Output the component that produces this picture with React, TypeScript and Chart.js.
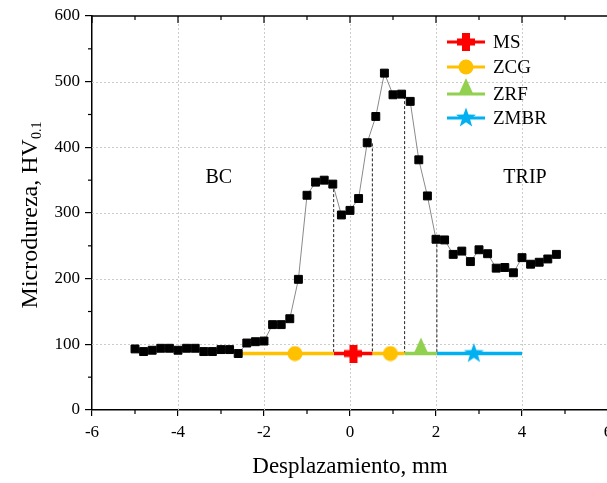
import React, { useEffect, useRef } from 'react';
import { Chart, registerables } from 'chart.js';

Chart.register(...registerables);

// ---- data ----
const positions = [
  -5.0, -4.8, -4.6, -4.4, -4.2, -4.0, -3.8, -3.6, -3.4, -3.2,
  -3.0, -2.8, -2.6, -2.4, -2.2, -2.0, -1.8, -1.6, -1.4, -1.2,
  -1.0, -0.8, -0.6, -0.4, -0.2, 0.0, 0.2, 0.4, 0.6, 0.8,
  1.0, 1.2, 1.4, 1.6, 1.8, 2.0, 2.2, 2.4, 2.6, 2.8,
  3.0, 3.2, 3.4, 3.6, 3.8, 4.0, 4.2, 4.4, 4.6, 4.8,
];
const hardness = [
  93, 89, 91, 94, 94, 91, 94, 94, 89, 89,
  92, 92, 86, 102, 104, 105, 130, 130, 139, 199,
  327, 347, 350, 344, 297, 304, 322, 407, 447, 513,
  480, 481, 470, 381, 326, 260, 259, 237, 242, 226,
  244, 238, 216, 217, 209, 232, 222, 225, 230, 237,
];

const zoneNames = ['ZCG', 'MS', 'ZCG', 'ZRF', 'ZMBR'];
const zoneStart = [-2.58, -0.38, 0.52, 1.27, 2.02];
const zoneEnd = [-0.38, 0.52, 1.27, 2.02, 4.0];
const zoneMarkerX = [-1.28, 0.08, 0.94, 1.65, 2.88];
const zoneLevel = 86;

const boundaryX = [-0.38, 0.52, 1.27, 2.02];
const boundaryTop = [344, 406, 478, 260];

const legendNames = ['MS', 'ZCG', 'ZRF', 'ZMBR'];

const xTicks = [-6, -4, -2, 0, 2, 4, 6];
const xMinorTicks = [-5, -3, -1, 1, 3, 5];
const yTicks = [0, 100, 200, 300, 400, 500, 600];
const yMinorTicks = [50, 150, 250, 350, 450, 550];

const regionLabels = ['BC', 'TRIP'];
const regionLabelX = [-3.05, 4.07];
const regionLabelY = [353, 353];

// ---- styles ----
const FONT = '"Liberation Serif", "Times New Roman", Times, serif';
const zoneColors: Record<string, string> = {
  MS: '#FF0000',
  ZCG: '#FFC000',
  ZRF: '#92D050',
  ZMBR: '#00B0F0',
};

function makeMarker(name: string): HTMLCanvasElement {
  const c = document.createElement('canvas');
  const color = zoneColors[name];
  if (name === 'MS') {
    c.width = 18; c.height = 18;
    const g = c.getContext('2d')!;
    g.fillStyle = color;
    g.fillRect(5, 0, 8, 18);
    g.fillRect(0, 5.5, 18, 7);
  } else if (name === 'ZCG') {
    c.width = 16; c.height = 16;
    const g = c.getContext('2d')!;
    g.fillStyle = color;
    g.beginPath();
    g.arc(8, 8, 7.5, 0, Math.PI * 2);
    g.fill();
  } else if (name === 'ZRF') {
    c.width = 18; c.height = 34;
    const g = c.getContext('2d')!;
    g.fillStyle = color;
    g.beginPath();
    g.moveTo(9, 1);
    g.lineTo(16.5, 17.5);
    g.lineTo(1.5, 17.5);
    g.closePath();
    g.fill();
  } else {
    c.width = 22; c.height = 22;
    const g = c.getContext('2d')!;
    g.fillStyle = color;
    g.beginPath();
    const R = 10.5, r = 4.3;
    for (let i = 0; i < 10; i++) {
      const rad = (Math.PI / 5) * i - Math.PI / 2;
      const rr = i % 2 === 0 ? R : r;
      const px = 11 + Math.cos(rad) * rr;
      const py = 11 + Math.sin(rad) * rr;
      if (i === 0) g.moveTo(px, py); else g.lineTo(px, py);
    }
    g.closePath();
    g.fill();
  }
  return c;
}

export default function App() {
  const ref = useRef<HTMLCanvasElement | null>(null);

  useEffect(() => {
    const canvas = ref.current!;
    const markers: Record<string, HTMLCanvasElement> = {};
    legendNames.forEach((n) => { markers[n] = makeMarker(n); });

    const datasets: any[] = [];

    // measured profile
    datasets.push({
      type: 'line',
      label: 'Microdureza',
      data: positions.map((x, i) => ({ x, y: hardness[i] })),
      borderColor: '#8a8a8a',
      borderWidth: 1,
      pointStyle: 'rect',
      pointRadius: 5.6,
      pointBackgroundColor: '#000',
      pointBorderColor: '#000',
      pointBorderWidth: 1,
      tension: 0,
      order: 2,
    });

    // zone segments
    zoneNames.forEach((n, i) => {
      datasets.push({
        type: 'line',
        label: n + '-line',
        data: [
          { x: zoneStart[i], y: zoneLevel },
          { x: zoneEnd[i], y: zoneLevel },
        ],
        borderColor: zoneColors[n],
        borderWidth: 3.5,
        pointRadius: 0,
        order: 4,
      });
      datasets.push({
        type: 'line',
        label: n,
        data: [{ x: zoneMarkerX[i], y: zoneLevel }],
        showLine: false,
        pointStyle: markers[n],
        pointRadius: 8,
        order: 1,
      });
    });

    // dashed boundaries
    boundaryX.forEach((bx, i) => {
      datasets.push({
        type: 'line',
        label: 'b' + i,
        data: [
          { x: bx, y: boundaryTop[i] },
          { x: bx, y: zoneLevel },
        ],
        borderColor: '#222',
        borderWidth: 1,
        borderDash: [3, 2],
        pointRadius: 0,
        order: 5,
      });
    });

    const decor = {
      id: 'decor',
      beforeDatasetsDraw(chart: any) {
        const { ctx, chartArea: a, scales } = chart;
        const xs = scales.x, ys = scales.y;
        ctx.save();
        ctx.strokeStyle = '#cccccc';
        ctx.lineWidth = 1;
        ctx.setLineDash([2, 2]);
        xTicks.forEach((v) => {
          if (v <= -6 || v >= 6) return;
          const px = Math.round(xs.getPixelForValue(v)) + 0.5;
          ctx.beginPath(); ctx.moveTo(px, a.top); ctx.lineTo(px, a.bottom); ctx.stroke();
        });
        yTicks.forEach((v) => {
          if (v <= 0 || v >= 600) return;
          const py = Math.round(ys.getPixelForValue(v)) + 0.5;
          ctx.beginPath(); ctx.moveTo(a.left, py); ctx.lineTo(a.right, py); ctx.stroke();
        });
        ctx.restore();
      },
      afterDraw(chart: any) {
        const { ctx, chartArea: a, scales } = chart;
        const xs = scales.x, ys = scales.y;
        ctx.save();
        ctx.strokeStyle = '#000';
        ctx.fillStyle = '#000';
        // top axis
        ctx.lineWidth = 1.5;
        ctx.beginPath(); ctx.moveTo(a.left, a.top); ctx.lineTo(chart.width, a.top); ctx.stroke();
        ctx.lineWidth = 1.2;
        xTicks.forEach((v) => {
          const px = xs.getPixelForValue(v);
          ctx.beginPath(); ctx.moveTo(px, a.top); ctx.lineTo(px, a.top + 7); ctx.stroke();
        });
        xMinorTicks.forEach((v) => {
          const px = xs.getPixelForValue(v);
          ctx.beginPath(); ctx.moveTo(px, a.top); ctx.lineTo(px, a.top + 4); ctx.stroke();
          ctx.beginPath(); ctx.moveTo(px, a.bottom); ctx.lineTo(px, a.bottom + 4); ctx.stroke();
        });
        yMinorTicks.forEach((v) => {
          const py = ys.getPixelForValue(v);
          ctx.beginPath(); ctx.moveTo(a.left - 4, py); ctx.lineTo(a.left, py); ctx.stroke();
        });

        // y title with subscript
        const main = 'Microdureza, HV';
        const sub = '0.1';
        ctx.font = '24px ' + FONT;
        const w1 = ctx.measureText(main).width;
        ctx.font = '14px ' + FONT;
        const w2 = ctx.measureText(sub).width;
        const total = w1 + w2;
        ctx.translate(37, (a.top + a.bottom) / 2 + 2);
        ctx.rotate(-Math.PI / 2);
        ctx.textBaseline = 'alphabetic';
        ctx.textAlign = 'left';
        ctx.font = '24px ' + FONT;
        ctx.fillText(main, -total / 2, 0);
        ctx.font = '14px ' + FONT;
        ctx.fillText(sub, -total / 2 + w1, 4);
        ctx.setTransform(1, 0, 0, 1, 0, 0);

        // region labels
        ctx.font = '20px ' + FONT;
        ctx.textAlign = 'center';
        ctx.textBaseline = 'middle';
        regionLabels.forEach((t, i) => {
          ctx.fillText(t, xs.getPixelForValue(regionLabelX[i]), ys.getPixelForValue(regionLabelY[i]));
        });

        // legend
        const lx = 447, rows = [42, 67, 94, 118];
        legendNames.forEach((n, i) => {
          const y = rows[i];
          ctx.strokeStyle = zoneColors[n];
          ctx.lineWidth = 3;
          ctx.beginPath(); ctx.moveTo(lx, y); ctx.lineTo(lx + 38, y); ctx.stroke();
          const m = markers[n];
          ctx.drawImage(m, Math.round(lx + 19 - m.width / 2), Math.round(y - m.height / 2));
          ctx.fillStyle = '#000';
          ctx.font = '19px ' + FONT;
          ctx.textAlign = 'left';
          ctx.textBaseline = 'middle';
          ctx.fillText(n, lx + 46, y + 1);
        });
        ctx.restore();
      },
    };

    const chart = new Chart(canvas, {
      type: 'line',
      data: { datasets },
      options: {
        responsive: false,
        animation: false,
        devicePixelRatio: 1,
        layout: { padding: { top: 16, right: 16, bottom: 0, left: 0 } },
        plugins: { legend: { display: false }, tooltip: { enabled: false } },
        scales: {
          x: {
            type: 'linear',
            min: -6,
            max: 6,
            afterBuildTicks: (s: any) => { s.ticks = xTicks.map((v) => ({ value: v })); },
            afterFit: (s: any) => { s.height = 73; },
            ticks: {
              font: { family: FONT, size: 17 },
              color: '#000',
              padding: 6,
              maxRotation: 0,
              autoSkip: false,
              callback: (v: any) => String(v),
            },
            grid: { drawOnChartArea: false, drawTicks: true, tickLength: 6, color: '#000', lineWidth: 1.2 },
            border: { display: true, color: '#000', width: 1.5 },
            title: {
              display: true,
              text: 'Desplazamiento, mm',
              font: { family: FONT, size: 23 },
              color: '#000',
              padding: { top: 0, bottom: 2 },
            },
          },
          y: {
            type: 'linear',
            min: 0,
            max: 600,
            afterBuildTicks: (s: any) => { s.ticks = yTicks.map((v) => ({ value: v })); },
            afterFit: (s: any) => { s.width = 92; },
            ticks: {
              font: { family: FONT, size: 17 },
              color: '#000',
              padding: 5,
              callback: (v: any) => String(v),
            },
            grid: { drawOnChartArea: false, drawTicks: true, tickLength: 7, color: '#000', lineWidth: 1.2 },
            border: { display: true, color: '#000', width: 1.5 },
          },
        },
      },
      plugins: [decor],
    } as any);

    return () => chart.destroy();
  }, []);

  return (
    <div style={{ position: 'fixed', left: 0, top: 0, width: 607, height: 483, overflow: 'hidden', background: '#fff' }}>
      <canvas ref={ref} width={624} height={483} style={{ display: 'block' }} />
    </div>
  );
}
